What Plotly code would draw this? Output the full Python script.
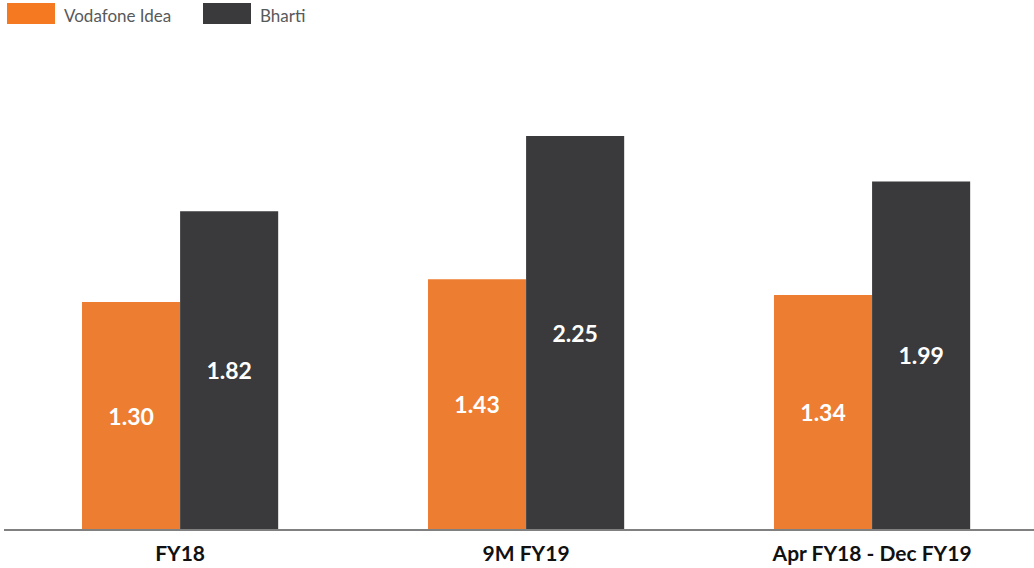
import plotly.graph_objects as go

categories = ["FY18", "9M FY19", "Apr FY18 - Dec FY19"]
vodafone_idea = [1.30, 1.43, 1.34]
bharti = [1.82, 2.25, 1.99]
series_names = ["Vodafone Idea", "Bharti"]

FONT = "Lato, Roboto, sans-serif"
bar_colors = ["#ED7D31", "#3A3A3C"]
legend_colors = ["#F47920", "#3A3A3C"]

W, H = 1034, 568
ML, MR, MT, MB = 4, 0, 75, 39
PW, PH = W - ML - MR, H - MT - MB

fig = go.Figure()
for name, vals, col in zip(series_names, [vodafone_idea, bharti], bar_colors):
    fig.add_trace(go.Bar(
        x=categories, y=vals, name=name, marker=dict(color=col, line=dict(width=0)),
        texttemplate="%{y:.2f}", textposition="inside", insidetextanchor="middle",
        textfont=dict(family=FONT, size=23, color="white", weight="bold"),
        showlegend=False,
    ))

# legend drawn as wide swatches (as in reference)
legend_x = [7, 203]
for i, (name, col) in enumerate(zip(series_names, legend_colors)):
    fig.add_shape(type="rect", xref="paper", yref="paper",
                  x0=(legend_x[i] - ML) / PW, x1=(legend_x[i] + 48 - ML) / PW,
                  y0=(H - MB - 3) / PH, y1=(H - MB - 24) / PH,
                  fillcolor=col, line=dict(width=0), layer="above")
    fig.add_annotation(xref="paper", yref="paper",
                       x=(legend_x[i] + 55 - ML) / PW, y=(H - MB - 16) / PH,
                       text=name, showarrow=False, xanchor="left", yanchor="middle",
                       font=dict(family=FONT, size=17, color="#58595B"))

fig.update_layout(
    width=W, height=H,
    margin=dict(l=ML, r=MR, t=MT, b=MB, autoexpand=False),
    barmode="group", bargap=0.433, bargroupgap=0,
    plot_bgcolor="white", paper_bgcolor="white",
    xaxis=dict(range=[-0.509, 2.468], showline=True, linecolor="#808080", linewidth=2,
               ticks="", showgrid=False, zeroline=False, automargin=False,
               ticklabelstandoff=5,
               tickfont=dict(family=FONT, size=21, color="#111111", weight="bold")),
    yaxis=dict(range=[0, 2.6], visible=False, showgrid=False, zeroline=False),
    uniformtext=dict(mode="show", minsize=10),
)
fig.write_html("out.html", config={"displayModeBar": False},
               post_script="document.body.style.margin='0';")
